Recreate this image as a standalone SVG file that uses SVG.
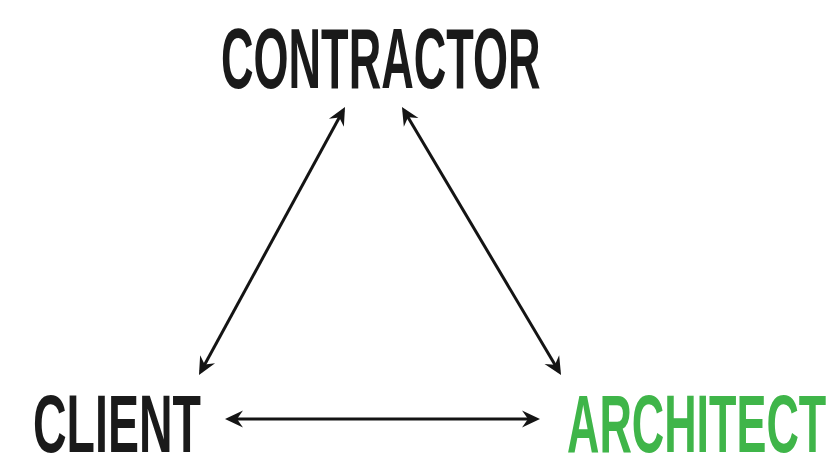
<svg xmlns="http://www.w3.org/2000/svg" width="829" height="469" viewBox="0 0 829 469">
  <style>
    .label { font-family: "Liberation Sans", Arial, sans-serif; font-weight: bold; font-size: 86px; }
    .low { font-size: 81px; }
    .dark { fill: #1a1a1a; }
    .green { fill: #3fb549; }
    .link { stroke: #141414; stroke-width: 3; fill: none; marker-start: url(#head); marker-end: url(#head); }
  </style>
  <defs>
    <marker id="head" markerUnits="userSpaceOnUse" viewBox="-16 -10 22 20" markerWidth="22" markerHeight="20" refX="0" refY="0" orient="auto-start-reverse">
      <path d="M4,0 L-14,-8.5 L-8,0 L-14,8.5 Z" fill="#141414"/>
    </marker>
  </defs>

  <rect width="829" height="469" fill="#ffffff"/>

  <g id="connectors">
    <line class="link" x1="200.9" y1="371.5" x2="343.1" y2="110.5"/>
    <line class="link" x1="404" y1="110.4" x2="559" y2="371.6"/>
    <line class="link" x1="229" y1="419" x2="536" y2="419"/>
  </g>

  <!-- labels are narrowed horizontally to a condensed look -->
  <g id="contractor" transform="translate(221,88) scale(0.524,1)">
    <text class="label dark" x="0" y="0">CONTRACTOR</text>
  </g>
  <g id="client" transform="translate(33,452) scale(0.574,1)">
    <text class="label low dark" x="0" y="0">CLIENT</text>
  </g>
  <g id="architect" transform="translate(567,452) scale(0.554,1)">
    <text class="label low green" x="0" y="0">ARCHITECT</text>
  </g>
</svg>
